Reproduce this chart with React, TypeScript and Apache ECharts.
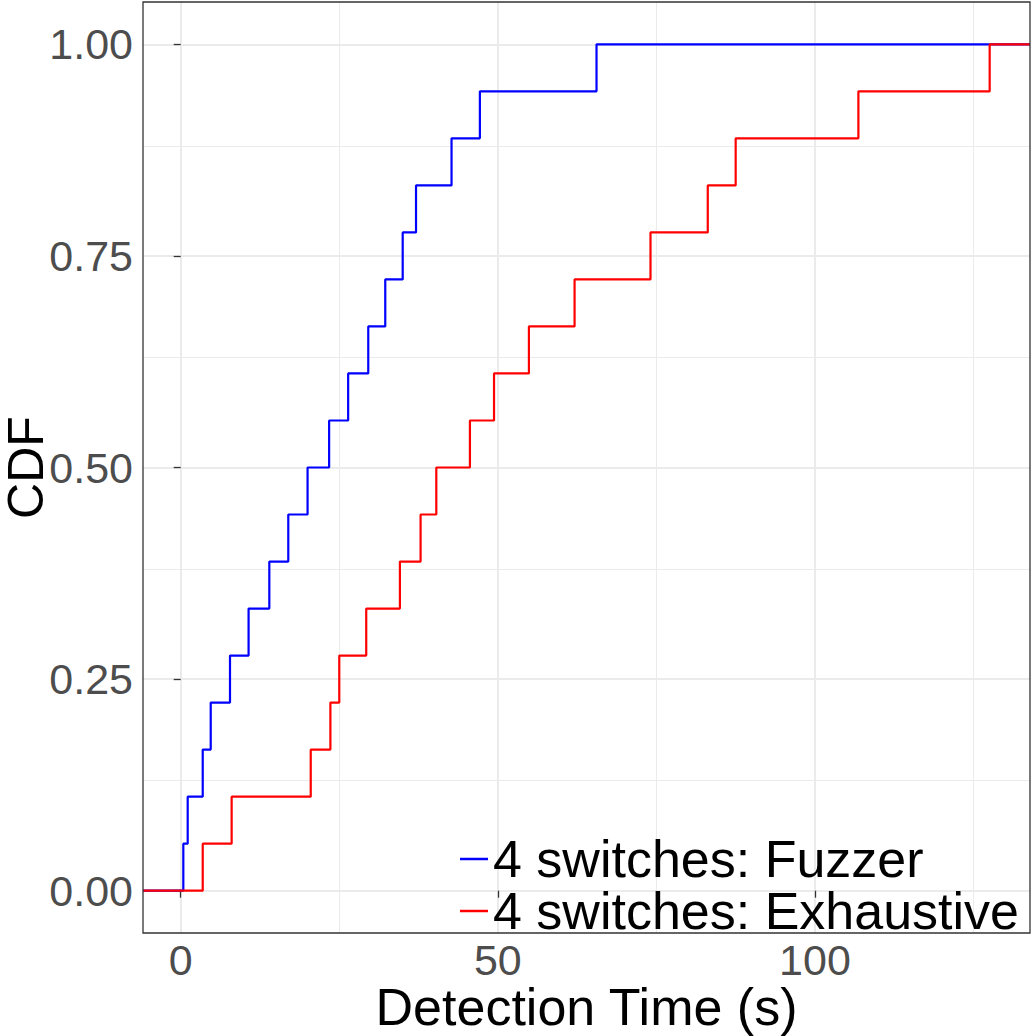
import React, { useEffect, useRef } from "react";
import * as echarts from "echarts";

// Detection times (seconds) for each run, one entry per run
const fuzzerTimes = [
  0.41, 1.1, 3.47, 4.73, 7.77, 10.7, 13.97, 16.96, 20.0, 23.4, 26.4, 29.57,
  32.25, 35.0, 37.1, 42.7, 47.17, 65.56,
];
const exhaustiveTimes = [
  3.47, 8.03, 20.5, 23.6, 25.0, 29.25, 34.56, 37.82, 40.3, 45.6, 49.4, 54.9,
  62.1, 74.07, 83.1, 87.5, 106.85, 127.55,
];
const seriesNames = ["4 switches: Fuzzer", "4 switches: Exhaustive"];
const seriesColors = ["#0000FF", "#FF0000"];

const xMajorTicks = [0, 50, 100];
const xMinorTicks = [25, 75, 125];
const yMajorTicks = [0, 0.25, 0.5, 0.75, 1];
const yMinorTicks = [0.125, 0.375, 0.625, 0.875];

const FONT = "'Liberation Sans', Arial, Helvetica, sans-serif";

// Empirical CDF as step points, padded out to the axis limits
function ecdf(times: number[], lo: number, hi: number): number[][] {
  const s = [...times].sort((a, b) => a - b);
  const n = s.length;
  const pts: number[][] = [[lo, 0]];
  s.forEach((t, i) => pts.push([t, (i + 1) / n]));
  pts.push([hi, 1]);
  return pts;
}

export default function App() {
  const ref = useRef<HTMLDivElement>(null);

  useEffect(() => {
    if (!ref.current) return;
    const chart = echarts.init(ref.current, undefined, { renderer: "svg" });

    const all = [...fuzzerTimes, ...exhaustiveTimes];
    const dMin = Math.min(...all);
    const dMax = Math.max(...all);
    const pad = (dMax - dMin) * 0.05;
    const xLo = dMin - pad;
    const xHi = dMax + pad;

    // background panel grid drawn beneath the curves
    const gridSeries = (xs: number[], ys: number[], width: number) => ({
      type: "line",
      data: [],
      z: 0,
      silent: true,
      markLine: {
        silent: true,
        z: 0,
        symbol: "none",
        label: { show: false },
        emphasis: { disabled: true },
        lineStyle: { color: "#EBEBEB", width, type: "solid" },
        data: [
          ...xs.map((v) => ({ xAxis: v })),
          ...ys.map((v) => ({ yAxis: v })),
        ],
      },
    });

    chart.setOption({
      animation: false,
      backgroundColor: "#FFFFFF",
      grid: {
        left: 143,
        right: 2,
        top: 2,
        bottom: 103,
        outerBoundsMode: "none",
        containLabel: false,
        show: true,
        borderColor: "#333333",
        borderWidth: 1.3,
        backgroundColor: "transparent",
        z: 3,
      },
      legend: {
        data: seriesNames,
        orient: "vertical",
        right: 13,
        bottom: 99,
        padding: 0,
        itemGap: 0,
        itemWidth: 28,
        itemHeight: 2.5,
        icon: "rect",
        backgroundColor: "transparent",
        textStyle: {
          fontFamily: FONT,
          fontSize: 52,
          color: "#000000",
          lineHeight: 49,
        },
      },
      xAxis: {
        type: "value",
        min: xLo,
        max: xHi,
        name: "Detection Time (s)",
        nameLocation: "middle",
        nameGap: 50,
        nameMoveOverlap: false,
        nameTextStyle: {
          fontFamily: FONT,
          fontSize: 52,
          lineHeight: 48,
          color: "#000000",
        },
        axisLine: { show: false },
        splitLine: { show: false },
        axisTick: {
          show: true,
          length: 7,
          customValues: xMajorTicks,
          lineStyle: { color: "#333333", width: 1.3 },
        },
        axisLabel: {
          customValues: xMajorTicks,
          margin: 5,
          fontFamily: FONT,
          fontSize: 43,
          color: "#4D4D4D",
          formatter: (v: number) => String(v),
        },
      },
      yAxis: {
        type: "value",
        min: -0.05,
        max: 1.05,
        name: "CDF",
        nameLocation: "middle",
        nameGap: 97,
        nameMoveOverlap: false,
        nameTextStyle: {
          fontFamily: FONT,
          fontSize: 50,
          lineHeight: 40,
          color: "#000000",
        },
        axisLine: { show: false },
        splitLine: { show: false },
        axisTick: {
          show: true,
          length: 7,
          customValues: yMajorTicks,
          lineStyle: { color: "#333333", width: 1.3 },
        },
        axisLabel: {
          customValues: yMajorTicks,
          margin: 10,
          fontFamily: FONT,
          fontSize: 43,
          color: "#4D4D4D",
          formatter: (v: number) => v.toFixed(2),
        },
      },
      series: [
        gridSeries(xMinorTicks, yMinorTicks, 1),
        gridSeries(xMajorTicks, yMajorTicks, 2),
        {
          name: seriesNames[0],
          type: "line",
          step: "end",
          data: ecdf(fuzzerTimes, xLo, xHi),
          showSymbol: false,
          symbol: "none",
          color: seriesColors[0],
          lineStyle: { color: seriesColors[0], width: 2.2 },
          z: 2,
        },
        {
          name: seriesNames[1],
          type: "line",
          step: "end",
          data: ecdf(exhaustiveTimes, xLo, xHi),
          showSymbol: false,
          symbol: "none",
          color: seriesColors[1],
          lineStyle: { color: seriesColors[1], width: 2.2 },
          z: 2,
        },
      ],
    });

    return () => chart.dispose();
  }, []);

  return (
    <div
      ref={ref}
      style={{ position: "fixed", left: 0, top: 0, width: 1032, height: 1036 }}
    />
  );
}
